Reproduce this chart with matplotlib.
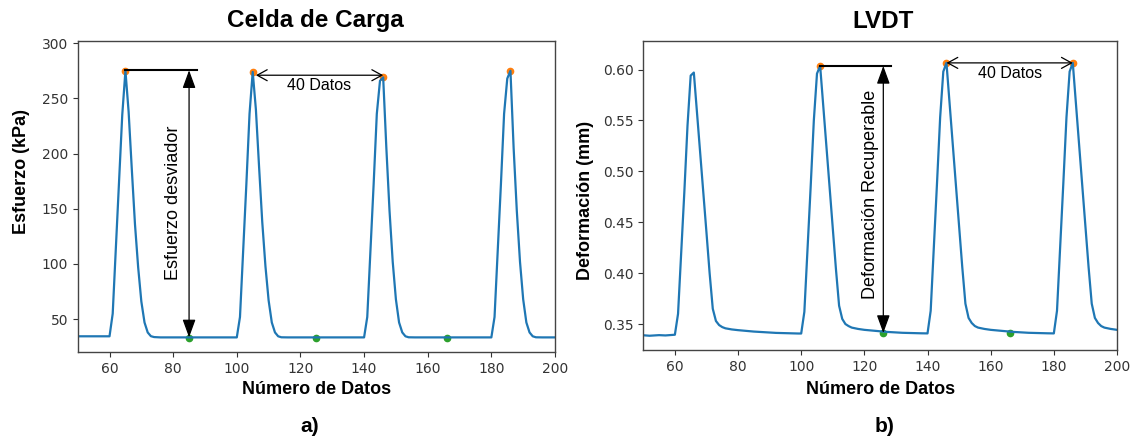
import matplotlib
matplotlib.use("Agg")
import matplotlib.pyplot as plt
import numpy as np

# ---------------- data ----------------
x_idx = list(range(49, 202))

esfuerzo = [34.5, 34.5, 34.6, 34.5, 34.5, 34.4, 34.5, 34.5, 34.6, 34.5, 34.5, 34.5,
            55, 115, 175, 235, 275, 238, 186, 136, 97, 66, 47, 38, 34.6, 33.8,
            33.6, 33.5, 33.5, 33.5, 33.5, 33.5, 33.5, 33.5, 33.5, 33.5, 33.5, 33.5, 33.5,
            33.5, 33.5, 33.5, 33.5, 33.5, 33.5, 33.5, 33.5, 33.5, 33.5, 33.5, 33.5, 33.5,
            52, 112, 172, 236, 274, 240, 188, 138, 98, 67, 47, 38, 34.5, 33.6,
            33.5, 33.5, 33.5, 33.5, 33.5, 33.5, 33.5, 33.5, 33.5, 33.5, 33.5, 33.5, 33.5,
            33.5, 33.5, 33.5, 33.5, 33.5, 33.5, 33.5, 33.5, 33.5, 33.5, 33.5, 33.5, 33.5,
            52, 112, 172, 236, 266, 269, 205, 148, 102, 68, 47, 38, 34.5, 33.6,
            33.5, 33.5, 33.5, 33.5, 33.5, 33.5, 33.5, 33.5, 33.5, 33.5, 33.5, 33.5, 33.5,
            33.5, 33.5, 33.5, 33.5, 33.5, 33.5, 33.5, 33.5, 33.5, 33.5, 33.5, 33.5, 33.5,
            52, 112, 172, 236, 268, 275, 205, 148, 102, 68, 47, 38, 34.5, 33.6,
            33.5, 33.5, 33.5, 33.5, 33.5, 33.5, 33.5]

deformacion = [0.3392, 0.3390, 0.3388, 0.3385, 0.3387, 0.3390, 0.3391, 0.3389, 0.3388, 0.3390, 0.3392, 0.3395,
               0.360, 0.420, 0.480, 0.545, 0.594, 0.597, 0.558, 0.519, 0.480, 0.440, 0.400, 0.365, 0.353, 0.349, 0.347,
               0.3458, 0.3452, 0.3447, 0.3443, 0.3440, 0.3437, 0.3434, 0.3431, 0.3428, 0.3426, 0.3424, 0.3422, 0.3420,
               0.3418, 0.3416, 0.3415, 0.3413, 0.3412, 0.3411, 0.3410, 0.3409, 0.3408, 0.3408, 0.3407, 0.3407,
               0.362, 0.423, 0.485, 0.550, 0.596, 0.6035, 0.564, 0.524, 0.484, 0.444, 0.404, 0.368, 0.355, 0.350, 0.348,
               0.3465, 0.3458, 0.3452, 0.3447, 0.3443, 0.3440, 0.3437, 0.3434, 0.3431, 0.3428, 0.3425, 0.3423, 0.3421,
               0.3419, 0.3417, 0.3416, 0.3414, 0.3413, 0.3412, 0.3411, 0.3410, 0.3410, 0.3409, 0.3409, 0.3408,
               0.363, 0.425, 0.488, 0.553, 0.598, 0.6065, 0.566, 0.526, 0.486, 0.446, 0.406, 0.370, 0.356, 0.351, 0.348,
               0.3465, 0.3458, 0.3452, 0.3447, 0.3443, 0.3440, 0.3437, 0.3434, 0.3431, 0.3428, 0.3425, 0.3423, 0.3421,
               0.3419, 0.3417, 0.3416, 0.3414, 0.3413, 0.3412, 0.3411, 0.3410, 0.3410, 0.3409, 0.3409, 0.3408,
               0.363, 0.425, 0.488, 0.553, 0.598, 0.6065, 0.566, 0.526, 0.486, 0.446, 0.406, 0.370, 0.356, 0.351, 0.348,
               0.3465, 0.3458, 0.3452, 0.3447, 0.3443, 0.3440]

picos_esf_x = [65, 105, 146, 186]
picos_esf_y = [275, 274, 269, 275]
valles_esf_x = [85, 125, 166]
valles_esf_y = [33.0, 33.0, 33.0]

picos_def_x = [106, 146, 186]
picos_def_y = [0.6035, 0.6065, 0.6065]
valles_def_x = [126, 166]
valles_def_y = [0.3408, 0.3408]

xticks = [60, 80, 100, 120, 140, 160, 180, 200]
yticks_esf = [50, 100, 150, 200, 250, 300]
yticks_def = [0.35, 0.40, 0.45, 0.50, 0.55, 0.60]

# ---------------- figure ----------------
W, H = 1133, 438
fig = plt.figure(figsize=(W / 100, H / 100), dpi=100)

def px(x0, y0, x1, y1):
    return [x0 / W, 1 - y1 / H, (x1 - x0) / W, (y1 - y0) / H]

ax1 = fig.add_axes(px(77.7, 41, 555, 352.3))
ax2 = fig.add_axes(px(643.3, 41, 1117, 350))

blue = "#1f77b4"
orange = "#ff7f0e"
green = "#2ca02c"
tick_color = "#333333"

for ax in (ax1, ax2):
    for s in ax.spines.values():
        s.set_color("#444444")
        s.set_linewidth(1.0)
    ax.tick_params(colors=tick_color, labelsize=10, length=3.5, width=0.8)

# ---- left panel ----
ax1.plot(x_idx, esfuerzo, color=blue, lw=1.6, zorder=2)
ax1.plot(picos_esf_x, picos_esf_y, "o", color=orange, ms=4.5, zorder=1)
ax1.plot(valles_esf_x, valles_esf_y, "o", color=green, ms=4.5, zorder=1)
ax1.set_xlim(50, 200)
ax1.set_ylim(20, 302)
ax1.set_xticks(xticks)
ax1.set_yticks(yticks_esf)

ax1.plot([65, 87.5], [275.5, 275.5], color="black", lw=1.5, zorder=3)
ax1.annotate("", xy=(85, 33.5), xytext=(85, 275.5),
             arrowprops=dict(arrowstyle="<|-|>,head_length=0.55,head_width=0.2",
                             color="black", lw=0.9, shrinkA=0, shrinkB=0,
                             mutation_scale=20))
ax1.annotate("", xy=(106, 271), xytext=(146, 271),
             arrowprops=dict(arrowstyle="<->,head_length=0.4,head_width=0.22",
                             color="black", lw=0.9, shrinkA=0, shrinkB=0,
                             mutation_scale=18))
ax1.text(126, 262, "40 Datos", ha="center", va="center",
         fontsize=11.5, family="Liberation Sans")
ax1.text(80, 155, "Esfuerzo desviador", ha="center", va="center",
         rotation=90, fontsize=13, family="Liberation Sans")

# ---- right panel ----
ax2.plot(x_idx, deformacion, color=blue, lw=1.6, zorder=2)
ax2.plot(picos_def_x, picos_def_y, "o", color=orange, ms=4.5, zorder=1)
ax2.plot(valles_def_x, valles_def_y, "o", color=green, ms=4.5, zorder=1)
ax2.set_xlim(50, 200)
ax2.set_ylim(0.3245, 0.628)
ax2.set_xticks(xticks)
ax2.set_yticks(yticks_def)
ax2.set_yticklabels([f"{v:.2f}" for v in yticks_def])

ax2.plot([106, 128.5], [0.6035, 0.6035], color="black", lw=1.5, zorder=3)
ax2.annotate("", xy=(126, 0.3412), xytext=(126, 0.6035),
             arrowprops=dict(arrowstyle="<|-|>,head_length=0.55,head_width=0.2",
                             color="black", lw=0.9, shrinkA=0, shrinkB=0,
                             mutation_scale=20))
ax2.annotate("", xy=(146, 0.6065), xytext=(186, 0.6065),
             arrowprops=dict(arrowstyle="<->,head_length=0.4,head_width=0.22",
                             color="black", lw=0.9, shrinkA=0, shrinkB=0,
                             mutation_scale=18))
ax2.text(166, 0.5960, "40 Datos", ha="center", va="center",
         fontsize=11.5, family="Liberation Sans")
ax2.text(122, 0.477, "Deformación Recuperable", ha="center", va="center",
         rotation=90, fontsize=13, family="Liberation Sans")

for lab in ax1.get_xticklabels() + ax1.get_yticklabels() + ax2.get_xticklabels() + ax2.get_yticklabels():
    lab.set_family("DejaVu Sans")
    lab.set_color(tick_color)

# ---- figure texts ----
bold = dict(family="Liberation Sans", weight="bold", ha="center", va="center")
fig.text(315 / W, 1 - 21 / H, "Celda de Carga", fontsize=17.5, **bold)
fig.text(883.5 / W, 1 - 21 / H, "LVDT", fontsize=17.5, **bold)
fig.text(316.7 / W, 1 - 390 / H, "Número de Datos", fontsize=13, **bold)
fig.text(881 / W, 1 - 390 / H, "Número de Datos", fontsize=13, **bold)
fig.text(21.7 / W, 1 - 171 / H, "Esfuerzo (kPa)", fontsize=13, rotation=90, **bold)
fig.text(586 / W, 1 - 200 / H, "Deformación (mm)", fontsize=13, rotation=90, **bold)
fig.text(310 / W, 1 - 426 / H, "a)", fontsize=15, **bold)
fig.text(884.6 / W, 1 - 426 / H, "b)", fontsize=15, **bold)

fig.savefig("out.png", dpi=100, facecolor="white")
